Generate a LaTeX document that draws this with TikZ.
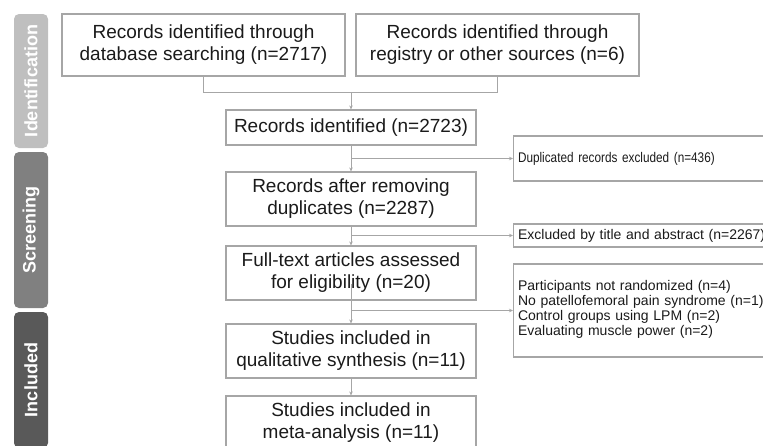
\documentclass[tikz,border=0pt]{standalone}
\usepackage{fontspec}
\setmainfont{Liberation Sans}
\newfontfamily\narrowfont[FakeStretch=0.84]{Liberation Sans}
\usetikzlibrary{arrows.meta}
\definecolor{barA}{HTML}{BFBFBF}
\definecolor{barB}{HTML}{808080}
\definecolor{barC}{HTML}{595959}
\definecolor{edge}{HTML}{A6A6A6}
\definecolor{ink}{HTML}{1A1A1A}
\tikzset{
  mainbox/.style={draw=edge, line width=1.1pt, align=center, text=ink,
    font=\fontsize{19}{22}\selectfont, inner sep=0pt},
  sidebox/.style={draw=edge, line width=1.1pt, align=left, text=ink, anchor=west,
    font=\fontsize{14}{15}\selectfont, inner xsep=4.5pt, inner ysep=0pt,
    text width=281pt, minimum width=290pt},
  phase/.style={rotate=90, rounded corners=5pt, text=white, inner sep=0pt,
    font=\bfseries\fontsize{18}{20}\selectfont, minimum height=34pt},
  link/.style={draw=edge, line width=1pt},
  arr/.style={link, -{Stealth[length=4pt,width=3.5pt]}}
}
\begin{document}
\begin{tikzpicture}[x=1pt,y=-1pt]
\useasboundingbox (0,0) rectangle (763,445);
\clip (0,0) rectangle (763,445);
% phase bars
\node[phase, fill=barA, minimum width=134pt] (pid) at (31,81) {Identification};
\node[phase, fill=barB, minimum width=156pt] (psc) at (31,230) {Screening};
\node[phase, fill=barC, minimum width=136pt] (pin) at (31,380) {Included};
% main boxes
\node[mainbox, minimum width=283pt, minimum height=62pt] (b1) at (203.5,45) {Records identified through\\database searching (n=2717)};
\node[mainbox, minimum width=283pt, minimum height=62pt] (b2) at (497.5,45) {Records identified through\\registry or other sources (n=6)};
\node[mainbox, minimum width=250pt, minimum height=35pt] (b3) at (351,127.5) {Records identified (n=2723)};
\node[mainbox, minimum width=250pt, minimum height=54pt] (b4) at (351,199) {Records after removing\\duplicates (n=2287)};
\node[mainbox, minimum width=250pt, minimum height=54pt] (b5) at (351,273) {Full-text articles assessed\\for eligibility (n=20)};
\node[mainbox, minimum width=250pt, minimum height=54pt] (b6) at (351,351) {Studies included in\\qualitative synthesis (n=11)};
\node[mainbox, minimum width=250pt, minimum height=54pt] (b7) at (351,423) {Studies included in\\meta-analysis (n=11)};
% side boxes
\node[sidebox, minimum height=45pt, font=\narrowfont\fontsize{14}{15}\selectfont] (r1) at (513,158.5) {Duplicated records excluded (n=436)};
\node[sidebox, minimum height=23pt] (r2) at (513,235.5) {Excluded by title and abstract (n=2267)};
\node[sidebox, minimum height=93pt] (r3) at (513,310.5) {Participants not randomized (n=4)\\No patellofemoral pain syndrome (n=1)\\Control groups using LPM (n=2)\\Evaluating muscle power (n=2)\\[-9pt]\mbox{}};
% connectors
\coordinate (j1) at (351,92);
\draw[link] (b1.south) -- (b1.south |- j1) -- (b2.south |- j1) -- (b2.south);
\draw[arr] (j1) -- (b3.north);
\draw[arr] (b3.south) -- (b4.north);
\draw[arr] (b3.south |- r1.west) -- (r1.west);
\draw[arr] (b4.south) -- (b5.north);
\draw[arr] (b4.south |- r2.west) -- (r2.west);
\coordinate (s5) at (351,284);
\draw[arr] (s5) -- (b6.north);
\draw[arr] (b5.south |- r3.west) -- (r3.west);
\draw[arr] (b6.south) -- (b7.north);
\end{tikzpicture}
\end{document}
